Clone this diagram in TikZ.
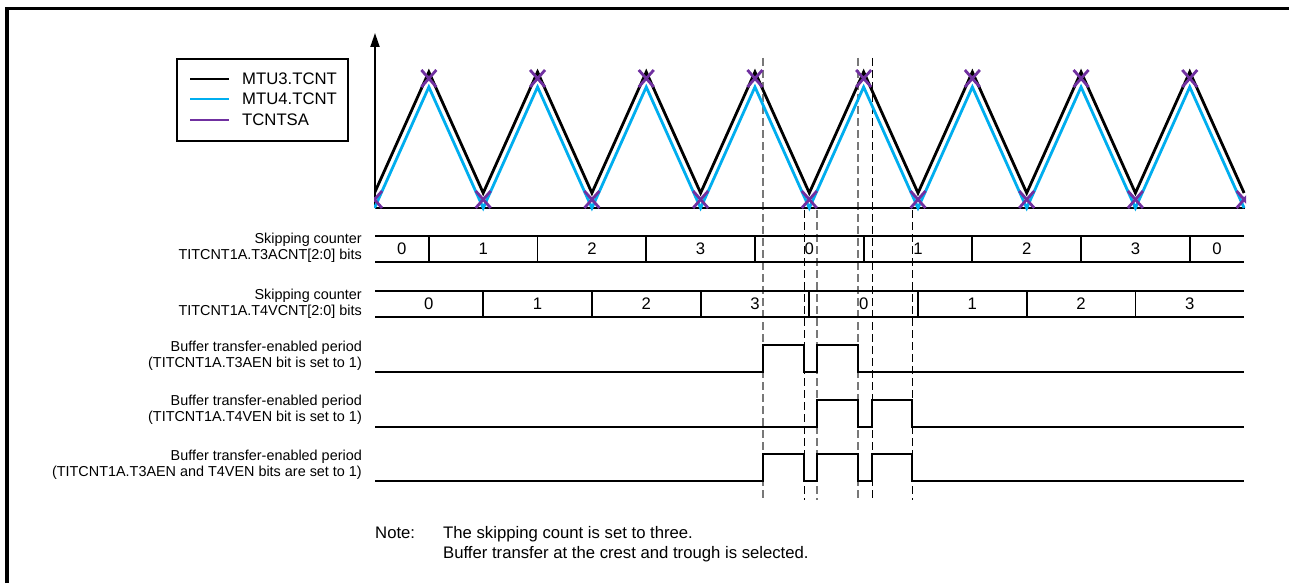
\documentclass[tikz,border=0pt]{standalone}
\usepackage{fontspec}
\setmainfont{Liberation Sans}
\usetikzlibrary{arrows.meta}
\definecolor{cnt4}{RGB}{0,174,239}
\definecolor{tsa}{RGB}{112,48,160}
\definecolor{dgrey}{RGB}{120,120,120}
\begin{document}
\begin{tikzpicture}[x=1pt,y=-1pt,
  blk/.style={line width=2.8pt,black},
  cfour/.style={line width=2.8pt,cnt4},
  tsax/.style={line width=2.8pt,tsa},
  rowln/.style={line width=1.8pt},
  sig/.style={line width=1.8pt},
  dg/.style={dgrey,line width=1.2pt,dash pattern=on 8pt off 4pt},
  dk/.style={black,line width=1pt,dash pattern=on 8pt off 4pt},
  lbl/.style={font=\fontsize{14.4}{16}\selectfont,align=right,anchor=east,inner sep=0pt},
  big/.style={font=\fontsize{16.7}{20}\selectfont,inner sep=0pt},
]
\useasboundingbox (0,0) rectangle (1289,583);
\fill[white] (0,0) rectangle (1289,583);
\draw[line width=3.5pt] (7,583) -- (7,8.3) -- (1289,8.3);

% dashed guide lines
\draw[dg] (763,58) -- (763,500);
\draw[dg] (817,210) -- (817,500);
\draw[dg] (858,58) -- (858,500);
\draw[dk] (804,210) -- (804,500);
\draw[dk] (872,58) -- (872,500);
\draw[dk] (912,210) -- (912,500);

% axes
\draw[line width=2pt,-{Triangle[length=14pt,width=9pt]}] (375,208) -- (375,33);
\draw[line width=2pt] (375,208) -- (1245,208);

% counters
\begin{scope}
\clip (374,0) rectangle (1246,215);
\draw[cfour] (374.5,208) \foreach \k in {0,...,7} { -- ({428.85+108.7*\k},87) -- ({483.2+108.7*\k},208) };
\draw[blk] (374.5,193) \foreach \k in {0,...,7} { -- ({428.85+108.7*\k},72) -- ({483.2+108.7*\k},193) };
\foreach \k in {0,...,7} {
  \draw[tsax] ({428.85+108.7*\k-7.5},70) -- ({428.85+108.7*\k+7.5},87);
  \draw[tsax] ({428.85+108.7*\k+7.5},70) -- ({428.85+108.7*\k-7.5},87);
}
\foreach \k in {0,...,8} {
  \draw[tsax] ({374.5+108.7*\k-7.5},191) -- ({374.5+108.7*\k+7.5},208);
  \draw[tsax] ({374.5+108.7*\k+7.5},191) -- ({374.5+108.7*\k-7.5},208);
}
\end{scope}

% legend
\draw[line width=1.5pt] (177,59) rectangle (348,141);
\draw[blk] (190,79) -- (229,79);
\draw[cfour] (190,99) -- (229,99);
\draw[tsax] (190,120) -- (229,120);
\node[big,anchor=west] (lg1) at (242,79) {MTU3.TCNT};
\node[big,anchor=west] (lg2) at (242,99) {MTU4.TCNT};
\node[big,anchor=west] (lg3) at (242,120) {TCNTSA};

% skipping counter rows
\draw[rowln] (375,236) -- (1244,236);
\draw[rowln] (375,262) -- (1244,262);
\foreach \k in {0,...,7} \draw[rowln] ({428.85+108.7*\k},236) -- ({428.85+108.7*\k},262);
\node[big] (a0) at (401.7,249) {0};
\foreach \v [count=\i from 0] in {1,2,3,0,1,2,3}
  \node[big] (a\i x) at ({483.2+108.7*\i},249) {\v};
\node[big] (a8) at (1217,249) {0};

\draw[rowln] (375,291) -- (1244,291);
\draw[rowln] (375,317) -- (1244,317);
\foreach \k in {1,...,7} \draw[rowln] ({374.5+108.7*\k},291) -- ({374.5+108.7*\k},317);
\foreach \v [count=\i from 0] in {0,1,2,3,0,1,2,3}
  \node[big] (b\i) at ({428.85+108.7*\i},304) {\v};

% enable signals
\draw[sig] (375,372) -- (763,372) -- (763,345) -- (804,345) -- (804,372) -- (817,372) -- (817,345) -- (858,345) -- (858,372) -- (1244,372);
\draw[sig] (375,427) -- (817,427) -- (817,400) -- (858,400) -- (858,427) -- (872,427) -- (872,400) -- (912,400) -- (912,427) -- (1244,427);
\draw[sig] (375,481) -- (763,481) -- (763,454) -- (804,454) -- (804,481) -- (817,481) -- (817,454) -- (858,454) -- (858,481) -- (872,481) -- (872,454) -- (912,454) -- (912,481) -- (1244,481);

% labels
\node[lbl] (l1) at (362,248) {Skipping counter\\TITCNT1A.T3ACNT[2:0] bits};
\node[lbl] (l2) at (362,303.5) {Skipping counter\\TITCNT1A.T4VCNT[2:0] bits};
\node[lbl] (l3) at (362,355.5) {Buffer transfer-enabled period\\(TITCNT1A.T3AEN bit is set to 1)};
\node[lbl] (l4) at (362,410) {Buffer transfer-enabled period\\(TITCNT1A.T4VEN bit is set to 1)};
\node[lbl] (l5) at (362,464.5) {Buffer transfer-enabled period\\(TITCNT1A.T3AEN and T4VEN bits are set to 1)};

% note
\node[big,anchor=base west] (n0) at (375,538) {Note:};
\node[big,anchor=base west] (n1) at (443,538) {The skipping count is set to three.};
\node[big,anchor=base west] (n2) at (443,558) {Buffer transfer at the crest and trough is selected.};
\end{tikzpicture}
\end{document}
